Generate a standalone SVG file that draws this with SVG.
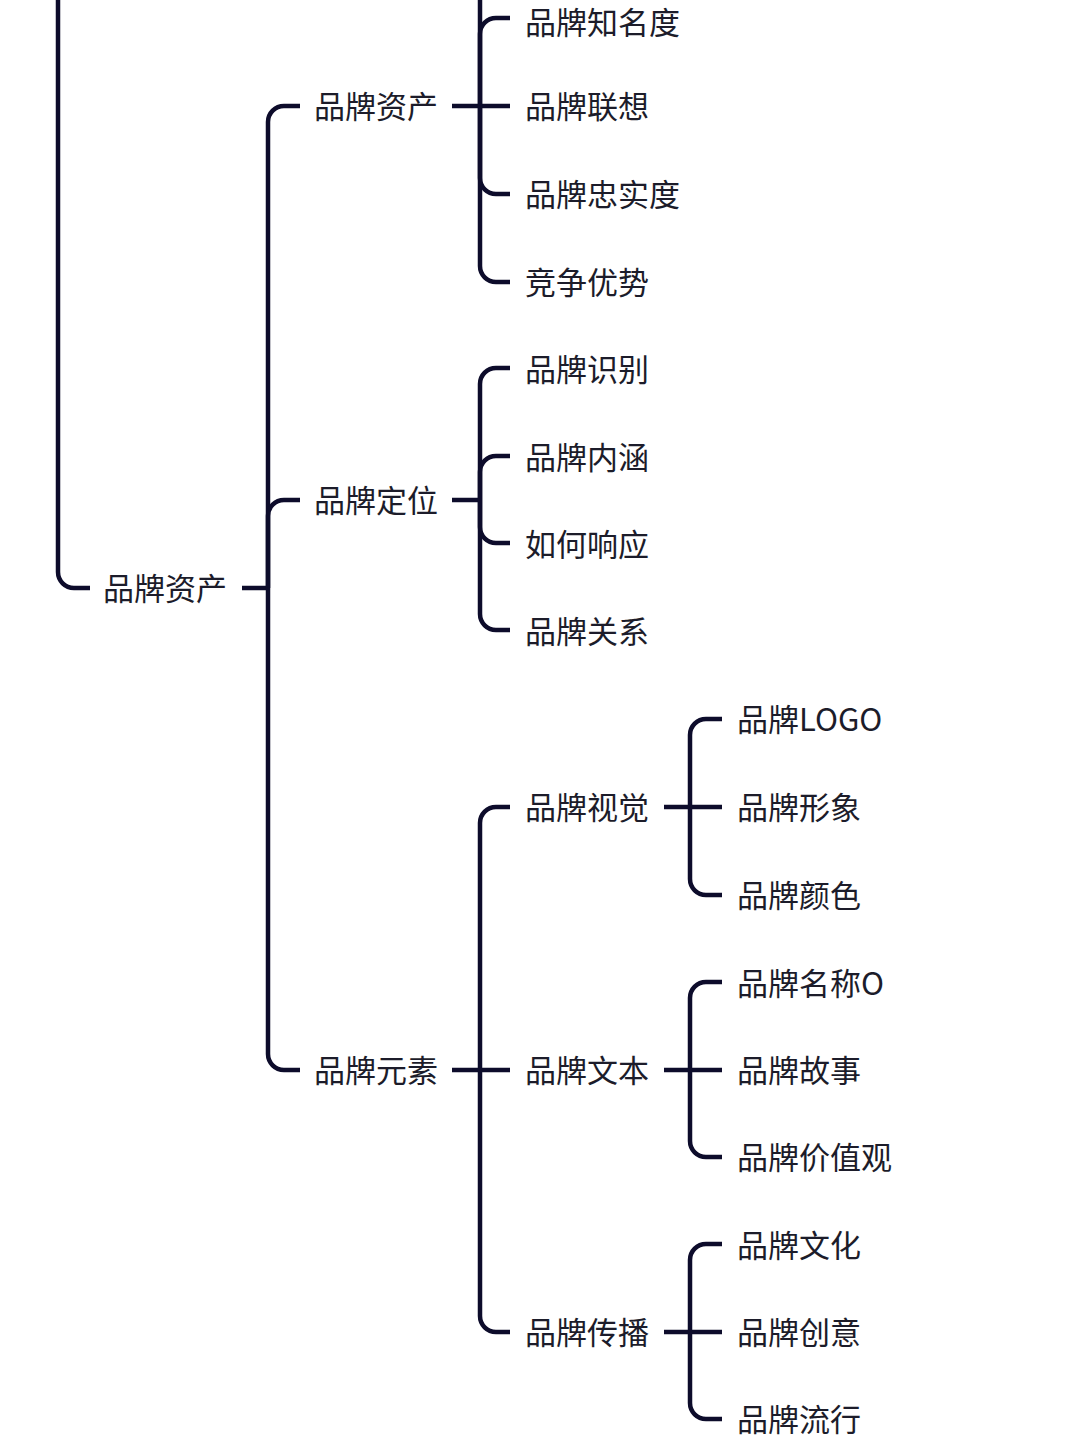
<svg xmlns="http://www.w3.org/2000/svg" width="1080" height="1440" viewBox="0 0 1080 1440">
  <style>
    .link { fill: none; stroke: #0d0c2b; stroke-width: 4.5; stroke-linecap: butt; }
    .label { font-family: "Noto Sans CJK SC", "Noto Sans", "Liberation Sans", sans-serif; font-size: 31px; fill: #1c1c2a; dominant-baseline: central; }
  </style>
  <rect width="1080" height="1440" fill="#ffffff"/>

  <g id="connectors">
    <!-- trunk coming down from above into the root -->
    <path class="link" d="M58 -10 V572 A16 16 0 0 0 74 588 H90"/>
    <!-- root to level 1 -->
    <path class="link" d="M242 588 H268"/>
    <path class="link" d="M268 588 V122 A16 16 0 0 1 284 106 H300"/>
    <path class="link" d="M268 588 V516 A16 16 0 0 1 284 500 H300"/>
    <path class="link" d="M268 588 V1054 A16 16 0 0 0 284 1070 H300"/>

    <!-- 品牌资产 children -->
    <path class="link" d="M452 106 H510"/>
    <path class="link" d="M480 106 V-10"/>
    <path class="link" d="M480 106 V34 A16 16 0 0 1 496 18 H510"/>
    <path class="link" d="M480 106 V178 A16 16 0 0 0 496 194 H510"/>
    <path class="link" d="M480 106 V266 A16 16 0 0 0 496 282 H510"/>

    <!-- 品牌定位 children -->
    <path class="link" d="M452 500 H480"/>
    <path class="link" d="M480 500 V384 A16 16 0 0 1 496 368 H510"/>
    <path class="link" d="M480 500 V472 A16 16 0 0 1 496 456 H510"/>
    <path class="link" d="M480 500 V527 A16 16 0 0 0 496 543 H510"/>
    <path class="link" d="M480 500 V614 A16 16 0 0 0 496 630 H510"/>

    <!-- 品牌元素 children -->
    <path class="link" d="M452 1070 H510"/>
    <path class="link" d="M480 1070 V823 A16 16 0 0 1 496 807 H510"/>
    <path class="link" d="M480 1070 V1316 A16 16 0 0 0 496 1332 H510"/>

    <!-- 品牌视觉 children -->
    <path class="link" d="M664 807 H722"/>
    <path class="link" d="M690 807 V735 A16 16 0 0 1 706 719 H722"/>
    <path class="link" d="M690 807 V879 A16 16 0 0 0 706 895 H722"/>

    <!-- 品牌文本 children -->
    <path class="link" d="M664 1070 H722"/>
    <path class="link" d="M690 1070 V998 A16 16 0 0 1 706 982 H722"/>
    <path class="link" d="M690 1070 V1141 A16 16 0 0 0 706 1157 H722"/>

    <!-- 品牌传播 children -->
    <path class="link" d="M664 1332 H722"/>
    <path class="link" d="M690 1332 V1260 A16 16 0 0 1 706 1244 H722"/>
    <path class="link" d="M690 1332 V1403 A16 16 0 0 0 706 1419 H722"/>
  </g>

  <g id="node-root"><text class="label" x="103" y="586">品牌资产</text></g>

  <g id="node-asset"><text class="label" x="314" y="104">品牌资产</text></g>
  <g id="node-awareness"><text class="label" x="525" y="20">品牌知名度</text></g>
  <g id="node-association"><text class="label" x="525" y="104">品牌联想</text></g>
  <g id="node-loyalty"><text class="label" x="525" y="192">品牌忠实度</text></g>
  <g id="node-advantage"><text class="label" x="525" y="280">竞争优势</text></g>

  <g id="node-position"><text class="label" x="314" y="498">品牌定位</text></g>
  <g id="node-identity"><text class="label" x="525" y="367">品牌识别</text></g>
  <g id="node-connotation"><text class="label" x="525" y="455">品牌内涵</text></g>
  <g id="node-response"><text class="label" x="525" y="542">如何响应</text></g>
  <g id="node-relation"><text class="label" x="525" y="629">品牌关系</text></g>

  <g id="node-element"><text class="label" x="314" y="1068">品牌元素</text></g>
  <g id="node-visual"><text class="label" x="525" y="805">品牌视觉</text></g>
  <g id="node-logo"><text class="label" x="737" y="717">品牌LOGO</text></g>
  <g id="node-image"><text class="label" x="737" y="805">品牌形象</text></g>
  <g id="node-color"><text class="label" x="737" y="893">品牌颜色</text></g>

  <g id="node-text"><text class="label" x="525" y="1068">品牌文本</text></g>
  <g id="node-name"><text class="label" x="737" y="981">品牌名称O</text></g>
  <g id="node-story"><text class="label" x="737" y="1068">品牌故事</text></g>
  <g id="node-values"><text class="label" x="737" y="1155">品牌价值观</text></g>

  <g id="node-spread"><text class="label" x="525" y="1330">品牌传播</text></g>
  <g id="node-culture"><text class="label" x="737" y="1243">品牌文化</text></g>
  <g id="node-idea"><text class="label" x="737" y="1330">品牌创意</text></g>
  <g id="node-trend"><text class="label" x="737" y="1417">品牌流行</text></g>
</svg>
